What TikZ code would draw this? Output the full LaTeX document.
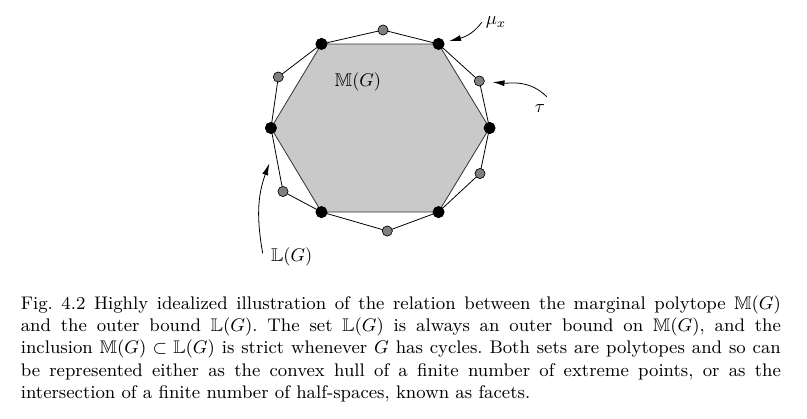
\documentclass[tikz,border=0pt]{standalone}
\usepackage{amssymb}
\usetikzlibrary{arrows.meta}

\begin{document}
\begin{tikzpicture}[x=1bp, y=1bp, >={Latex[length=12bp, width=6bp]}, line width=0.8bp,
  marg node/.style={circle, draw, fill=black, inner sep=0pt, minimum size=11bp},
  local node/.style={circle, draw, fill=black!50, inner sep=0pt, minimum size=10bp, line width=0.5bp},
  lab node/.style={inner sep=0pt, scale=1.85, transform shape}]

  \useasboundingbox (0,0) rectangle (807,418);

  % Define nodes
  \node[marg node] (m1) at (321.5,374) {};
  \node[marg node] (m2) at (438.5,374) {};
  \node[marg node] (m3) at (489.5,290) {};
  \node[marg node] (m4) at (438.5,206) {};
  \node[marg node] (m5) at (321.5,206) {};
  \node[marg node] (m6) at (271,290) {};

  \node[local node] (t1) at (383,388) {};
  \node[local node] (t2) at (479.3,337) {};
  \node[local node] (t3) at (480,244.5) {};
  \node[local node] (t4) at (387.3,187) {};
  \node[local node] (t5) at (283,226.5) {};
  \node[local node] (t6) at (278.3,341) {};

  % Polytopes
  \fill[black!21] (m1.center) -- (m2.center) -- (m3.center) -- (m4.center) -- (m5.center) -- (m6.center) -- cycle;
  \draw[black!80] (m1.center) -- (m2.center) -- (m3.center) -- (m4.center) -- (m5.center) -- (m6.center) -- cycle;
  \draw (m1.center) -- (t1.center) -- (m2.center) -- (t2.center) -- (m3.center) -- (t3.center) -- (m4.center)
    -- (t4.center) -- (m5.center) -- (t5.center) -- (m6.center) -- (t6.center) -- cycle;

  % Redraw vertices on top
  \foreach \i in {1,...,6} {
    \node[marg node] at (m\i) {};
    \node[local node] at (t\i) {};
  }

  % Labels
  \node[lab node] (mg) at (358,336) {$\mathbb{M}(G)$};
  \node[lab node] (mux) at (496,395.5) {$\mu_x$};
  \node[lab node] (tau) at (540,309) {$\tau$};
  \node[lab node] (lg) at (291.7,161.3) {$\mathbb{L}(G)$};

  \coordinate (mux start) at (481.7,395.7);
  \coordinate (tau start) at (546.7,321.3);
  \coordinate (lg start) at (262.7,164.7);
  \coordinate (lg end) at (269.3,254.7);

  % Define edges
  \draw[->, shorten >=5bp] (mux start) to[out=-125, in=15] (m2);
  \draw[->, shorten >=8bp] (tau start) to[out=135, in=-5] (t2);
  \draw[->] (lg start) to[out=100, in=-110] (lg end);

  % Caption
  \node[anchor=base west, inner sep=0pt, text width=373.3bp, align=justify,
    font=\fontsize{9}{11}\selectfont\frenchspacing, scale=2.036, transform shape] (cap) at (20,108.7)
    {Fig.~4.2 Highly idealized illustration of the relation between the marginal polytope $\mathbb{M}(G)$\linebreak
     and the outer bound $\mathbb{L}(G)$. The set $\mathbb{L}(G)$ is always an outer bound on $\mathbb{M}(G)$, and the\linebreak
     inclusion $\mathbb{M}(G) \subset \mathbb{L}(G)$ is strict whenever $G$ has cycles. Both sets are polytopes and so can\linebreak
     be represented either as the convex hull of a finite number of extreme points, or as the\linebreak
     intersection of a finite number of half-spaces, known as facets.};
\end{tikzpicture}
\end{document}
